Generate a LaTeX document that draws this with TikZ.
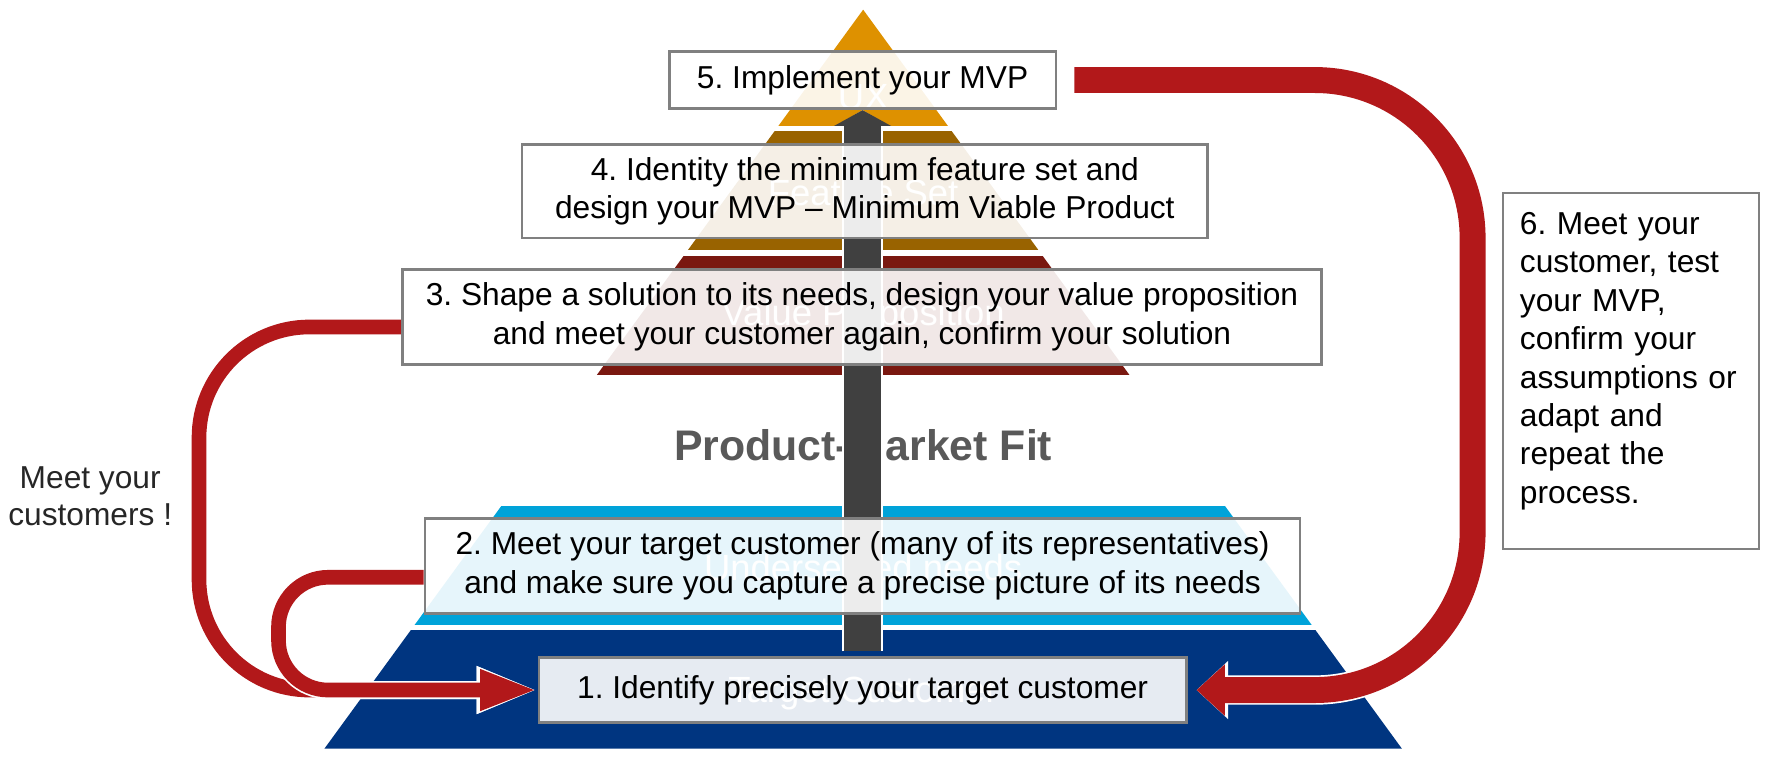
\documentclass[tikz,border=0pt]{standalone}
\usepackage{fontspec}
\setmainfont{Liberation Sans}
\usepackage{xcolor}
\usetikzlibrary{arrows.meta, positioning, calc, backgrounds}

\definecolor{UXOrange}{RGB}{222,145,0}
\definecolor{FSBrown}{RGB}{153,99,0}
\definecolor{VPRed}{RGB}{122,24,16}
\definecolor{UNCyan}{RGB}{0,163,217}
\definecolor{TCNavy}{RGB}{0,53,128}
\definecolor{LoopRed}{RGB}{178,24,26}
\definecolor{ShaftGray}{RGB}{64,64,64}
\definecolor{BoxGray}{RGB}{128,128,128}
\definecolor{PMFGray}{RGB}{89,89,89}
\definecolor{SideGray}{RGB}{38,38,38}

\tikzset{
    % Step box (half see-through white)
    stepbox/.style={rectangle, draw=BoxGray, line width=0.7pt, fill=white,
        fill opacity=0.9, text opacity=1, inner sep=0pt, align=center,
        font=\fontsize{8}{9.7}\selectfont\frenchspacing},
    % Note box on the right
    notebox/.style={rectangle, draw=BoxGray, line width=0.7pt, fill=white,
        align=left, text width=1.97cm, inner xsep=0.15cm, inner ysep=0.17cm,
        text depth=2.62cm, font=\fontsize{8}{9.7}\selectfont\frenchspacing},
    % White layer names inside the pyramid
    layerlabel/.style={text=white, font=\fontsize{9.2}{11}\selectfont},
    % Middle title
    pmftext/.style={text=PMFGray, font=\fontsize{10.8}{13}\selectfont\bfseries},
    % Side remark
    sidetext/.style={text=SideGray, align=center, font=\fontsize{8}{9.4}\selectfont\frenchspacing},
    % Central upward arrow
    uparrow/.style={ShaftGray, line width=0.33cm,
        -{Triangle[length=0.14cm, width=0.5cm]},
        preaction={draw=white, line width=0.37cm, -{Triangle[length=0.17cm, width=0.56cm]}}},
    % Big loop on the right
    bigloop/.style={LoopRed, line width=0.23cm, rounded corners=1.4cm,
        -{Triangle[length=0.25cm, width=0.44cm]},
        preaction={draw=white, line width=0.26cm, -{Triangle[length=0.28cm, width=0.5cm]}}},
    % Loops on the left
    smallloop/.style={LoopRed, line width=0.13cm,
        -{Triangle[length=0.51cm, width=0.33cm]},
        preaction={draw=white, line width=0.16cm, -{Triangle[length=0.54cm, width=0.38cm]}}},
}

\begin{document}
\begin{tikzpicture}
    \useasboundingbox (0,0) rectangle (15.68,6.71);

    % steps
    \node[stepbox, minimum width=5.74cm, minimum height=0.58cm] (s1) at (7.65,0.59)
        {1. Identify precisely your target customer};
    \node[stepbox, minimum width=7.76cm, minimum height=0.84cm] (s2) at (7.65,1.69)
        {2. Meet your target customer (many of its representatives)\\and make sure you capture a precise picture of its needs};
    \node[stepbox, minimum width=8.15cm, minimum height=0.84cm] (s3) at (7.645,3.90)
        {3. Shape a solution to its needs, design your value proposition\\and meet your customer again, confirm your solution};
    \node[stepbox, minimum width=6.08cm, minimum height=0.83cm] (s4) at (7.67,5.015)
        {4. Identity the minimum feature set and\\design your MVP -- Minimum Viable Product};
    \node[stepbox, minimum width=3.43cm, minimum height=0.51cm] (s5) at (7.65,6.00)
        {5. Implement your MVP};
    \node[notebox, anchor=north] (s6) at (14.465,5.01)
        {6. Meet your\\customer, test\\your MVP,\\confirm your\\assumptions or\\adapt and\\repeat the\\process.};

    \begin{scope}[on background layer]
        % pyramid
        \begin{scope}
            \clip (7.655,6.624) -- (12.433,0.07) -- (2.877,0.07) -- cycle;
            \fill[UXOrange] (2.8,5.59) rectangle (12.5,6.7);
            \fill[FSBrown] (2.8,4.49) rectangle (12.5,5.55);
            \fill[VPRed] (2.8,3.38) rectangle (12.5,4.44);
            \fill[UNCyan] (2.8,1.17) rectangle (12.5,2.22);
            \fill[TCNavy] (2.8,0.07) rectangle (12.5,1.12);
        \end{scope}
        \node[layerlabel] (ux) at (7.655,5.85) {UX};
        \node[layerlabel] (fs) at (7.655,5.00) {Feature Set};
        \node[layerlabel] (vp) at (7.655,3.91) {Value Proposition};
        \node[layerlabel] (un) at (7.655,1.68) {Underserved needs};
        \node[layerlabel] (tc) at (7.655,0.56) {Target Customer};
        \node[pmftext] (pmf) at (7.655,2.76) {Product-Market Fit};
        \node[sidetext] (meet) at (0.80,2.31) {Meet your\\customers !};

        % arrows
        \draw[uparrow] ([yshift=0.04cm]s1.north) -- (s5.south);
        \draw[bigloop] ([xshift=0.15cm]s5.east) -| (13.06,0.59) -- ([xshift=0.08cm]s1.east);
        \draw[smallloop, rounded corners=0.98cm] ([yshift=-0.09cm]s3.west) -| (1.765,0.59) -- (s1.west);
        \draw[smallloop, rounded corners=0.44cm] ([yshift=-0.10cm]s2.west) -| (2.47,0.59) -- (s1.west);
    \end{scope}
\end{tikzpicture}
\end{document}
